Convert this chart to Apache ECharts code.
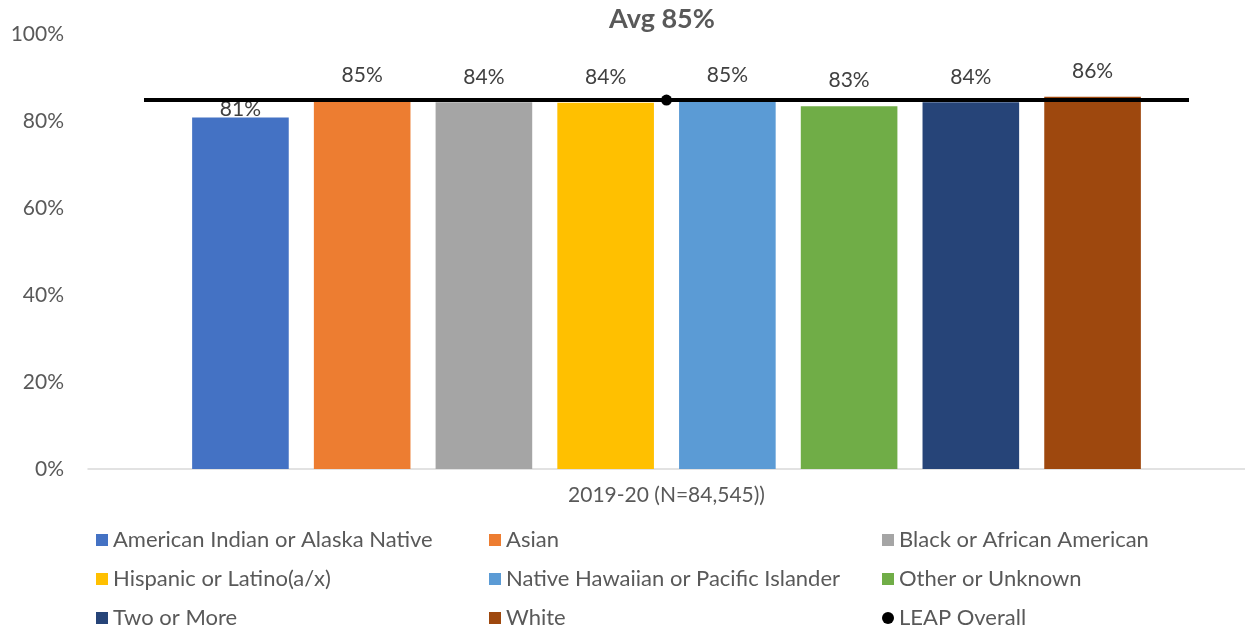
<!DOCTYPE html>
<html>
<head>
<meta charset="utf-8">
<title>Avg 85%</title>
<script src="https://cdn.jsdelivr.net/npm/echarts@6/dist/echarts.min.js"></script>
<style>
  html, body { margin: 0; padding: 0; background: #ffffff; }
  #chart { width: 1245px; height: 629px; }
</style>
</head>
<body>
<div id="chart"></div>
<script>
// School year shown on the category axis
const categories = ['2019-20 (N=84,545))'];

// Race / ethnicity groups and their rates (percent)
const groupNames = [
  'American Indian or Alaska Native',
  'Asian',
  'Black or African American',
  'Hispanic or Latino(a/x)',
  'Native Hawaiian or Pacific Islander',
  'Other or Unknown',
  'Two or More',
  'White'
];
const groupValues = [80.8, 84.7, 84.3, 84.2, 84.6, 83.4, 84.3, 85.6];
const groupColors = ['#4472C4', '#ED7D31', '#A5A5A5', '#FFC000', '#5B9BD5', '#70AD47', '#264478', '#9E480E'];

// Overall average for all students
const overallName = 'LEAP Overall';
const overallValue = 84.8;

// Value axis range
const yMin = 0;
const yMax = 100;
const yStep = 20;

const FONT = 'Lato, "Open Sans", sans-serif';
const pct = v => Math.round(v) + '%';

const barSeries = groupNames.map((name, i) => ({
  type: 'bar',
  name: name,
  data: [groupValues[i]],
  barGap: '26%',
  barCategoryGap: '18%',
  itemStyle: { color: groupColors[i] },
  label: {
    show: true,
    position: 'top',
    distance: i === 0 ? -2 : 15,
    formatter: p => pct(p.value),
    fontFamily: FONT,
    fontSize: 21,
    color: '#404040'
  },
  z: 2
}));

// Overall marker: a dot at the average with a horizontal bar across the group
const overallSeries = {
  type: 'custom',
  name: overallName,
  data: [[0, overallValue]],
  encode: { x: 0, y: 1 },
  itemStyle: { color: '#000000' },
  z: 10,
  renderItem: (params, api) => {
    const c = api.coord([api.value(0), api.value(1)]);
    const half = api.size([1, 0])[0] * 0.4516;
    return {
      type: 'group',
      children: [
        {
          type: 'line',
          shape: { x1: c[0] - half, y1: c[1], x2: c[0] + half, y2: c[1] },
          style: { stroke: '#000000', lineWidth: 4 }
        },
        {
          type: 'circle',
          shape: { cx: c[0], cy: c[1], r: 5.5 },
          style: { fill: '#000000' }
        }
      ]
    };
  }
};

const legendColumns = [
  [groupNames[0], groupNames[3], groupNames[6]],
  [groupNames[1], groupNames[4], groupNames[7]],
  [groupNames[2], groupNames[5], { name: overallName, icon: 'circle' }]
];
const legendLefts = [96, 489, 882];

const legends = legendColumns.map((col, k) => ({
  orient: 'vertical',
  left: legendLefts[k],
  top: 529,
  width: 360,
  height: 130,
  padding: 0,
  itemWidth: 12,
  itemHeight: 12,
  itemGap: 17,
  icon: 'rect',
  selectedMode: false,
  data: col,
  textStyle: { fontFamily: FONT, fontSize: 22, color: '#595959', lineHeight: 22, padding: [0, 0, 0, 0] }
}));

const chart = echarts.init(document.getElementById('chart'), null, { renderer: 'canvas' });
chart.setOption({
  animation: false,
  backgroundColor: '#ffffff',
  title: {
    text: 'Avg ' + pct(overallValue),
    left: 662,
    textAlign: 'center',
    top: 6,
    padding: 0,
    textStyle: { fontFamily: FONT, fontSize: 27, fontWeight: 'bold', color: '#595959' }
  },
  legend: legends,
  grid: { left: 88, right: 0, top: 34, bottom: 160 },
  xAxis: {
    type: 'category',
    data: categories,
    axisLine: { show: true, lineStyle: { color: '#D9D9D9', width: 1.5 } },
    axisTick: { show: false },
    axisLabel: { fontFamily: FONT, fontSize: 21, color: '#595959', margin: 16 }
  },
  yAxis: {
    type: 'value',
    min: yMin,
    max: yMax,
    interval: yStep,
    axisLine: { show: false },
    axisTick: { show: false },
    splitLine: { show: false },
    axisLabel: { fontFamily: FONT, fontSize: 21, color: '#595959', margin: 24, formatter: v => v + '%' }
  },
  series: [...barSeries, overallSeries]
});
</script>
</body>
</html>
